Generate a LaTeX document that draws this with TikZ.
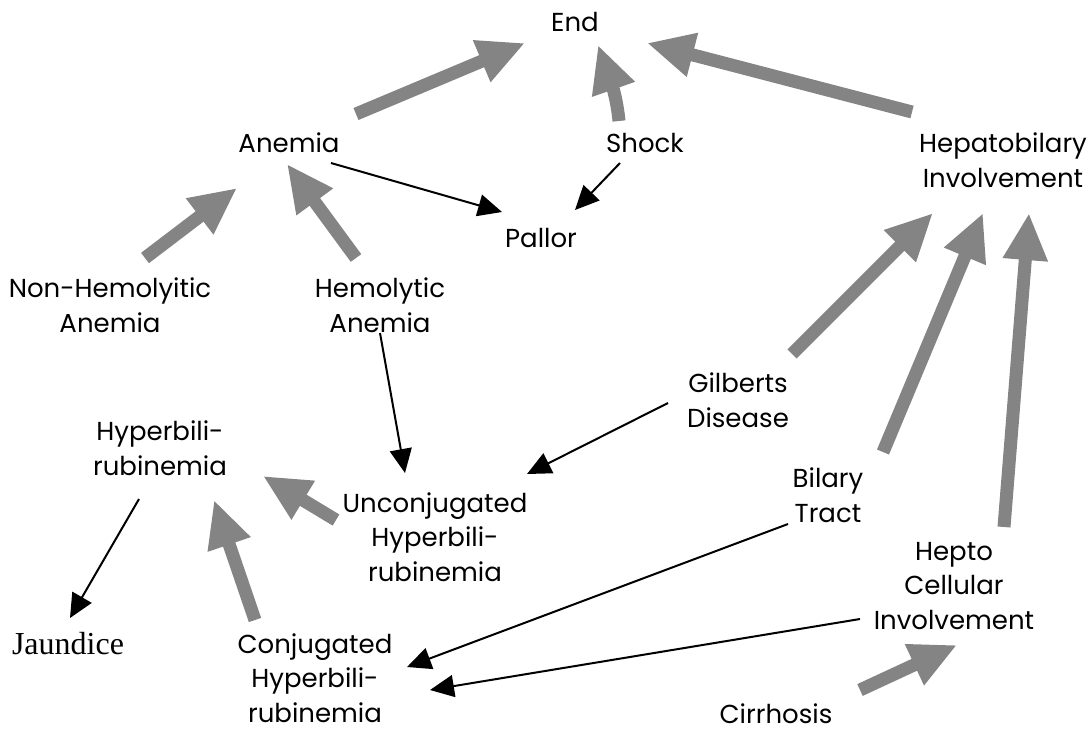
\documentclass[tikz,border=0pt]{standalone}
\usepackage{fontspec}
\setmainfont{Poppins}
\newfontfamily\serifjaundice{Liberation Serif}
\usetikzlibrary{arrows.meta}
\definecolor{fatgray}{RGB}{132,132,132}
\tikzset{
  lbl/.style={inner sep=0pt, align=center, font=\fontsize{26}{34.5}\selectfont},
  fat/.style={-{Triangle[length=47pt,width=42pt]}, line width=13pt, fatgray},
  thin/.style={-{Triangle[length=24pt,width=22pt]}, line width=2pt, black}
}
\begin{document}
\begin{tikzpicture}[x=1pt,y=-1pt]
\useasboundingbox (0,0) rectangle (1092,732);
%\draw [help lines] (0,0) grid[step=50] (1092,732);
\node[lbl] (end) at (575,22) {End};
\node[lbl] (anemia) at (289,143) {Anemia};
\node[lbl] (shock) at (645,143) {Shock};
\node[lbl] (hepato) at (1003,160) {Hepatobilary\\Involvement};
\node[lbl] (pallor) at (541,238) {Pallor};
\node[lbl] (nonhem) at (110,305) {Non-Hemolyitic\\Anemia};
\node[lbl] (hemol) at (380,305) {Hemolytic\\Anemia};
\node[lbl] (gilbert) at (738,400) {Gilberts\\Disease};
\node[lbl] (hyper) at (160,448) {Hyperbili-\\rubinemia};
\node[lbl] (unconj) at (435,537) {Unconjugated\\Hyperbili-\\rubinemia};
\node[lbl] (bilary) at (828,495) {Bilary\\Tract};
\node[lbl] (hepto) at (954,586) {Hepto\\Cellular\\Involvement};
\node[inner sep=0pt, font=\serifjaundice\fontsize{32}{36}\selectfont] (jaundice) at (68,644) {Jaundice};
\node[lbl] (conj) at (315,678) {Conjugated\\Hyperbili-\\rubinemia};
\node[lbl] (cirrh) at (776,714) {Cirrhosis};
% fat gray arrows
\draw[fat] ([shift={(67,-29)}]anemia.center) -- ([shift={(-50,21)}]end.center);
\draw[fat] ([shift={(-26,-22)}]shock.center) .. controls +(-2,-21) and +(14,40) .. ([shift={(23,23)}]end.center);
\draw[fat] ([shift={(-91,-48)}]hepato.center) -- ([shift={(72,21)}]end.center);
\draw[fat] ([shift={(35,-47)}]nonhem.center) -- ([shift={(-52,45)}]anemia.center);
\draw[fat] ([shift={(-24,-47)}]hemol.center) -- ([shift={(-2,21)}]anemia.center);
\draw[fat] ([shift={(54,-46)}]gilbert.center) -- ([shift={(-70,53)}]hepato.center);
\draw[fat] ([shift={(55,-43)}]bilary.center) -- ([shift={(-20,53)}]hepato.center);
\draw[fat] ([shift={(50,-59)}]hepto.center) -- ([shift={(26,53)}]hepato.center);
\draw[fat] ([shift={(84,-24)}]cirrh.center) -- ([shift={(3,59)}]hepto.center);
\draw[fat] ([shift={(-99,-17)}]unconj.center) -- ([shift={(103,28)}]hyper.center);
\draw[fat] ([shift={(-60,-58)}]conj.center) -- ([shift={(54,52)}]hyper.center);
% thin black arrows
\draw[thin] ([shift={(42,20)}]anemia.center) -- ([shift={(-39,-26)}]pallor.center);
\draw[thin] ([shift={(-25,20)}]shock.center) -- ([shift={(34,-28)}]pallor.center);
\draw[thin] ([shift={(0,28)}]hemol.center) -- ([shift={(-30,-64)}]unconj.center);
\draw[thin] ([shift={(-70,3)}]gilbert.center) -- ([shift={(92,-63)}]unconj.center);
\draw[thin] ([shift={(-21,51)}]hyper.center) -- ([shift={(2,-26)}]jaundice.center);
\draw[thin] ([shift={(-40,29)}]bilary.center) -- ([shift={(92,-11)}]conj.center);
\draw[thin] ([shift={(-94,33)}]hepto.center) -- ([shift={(115,12)}]conj.center);
\end{tikzpicture}
\end{document}
